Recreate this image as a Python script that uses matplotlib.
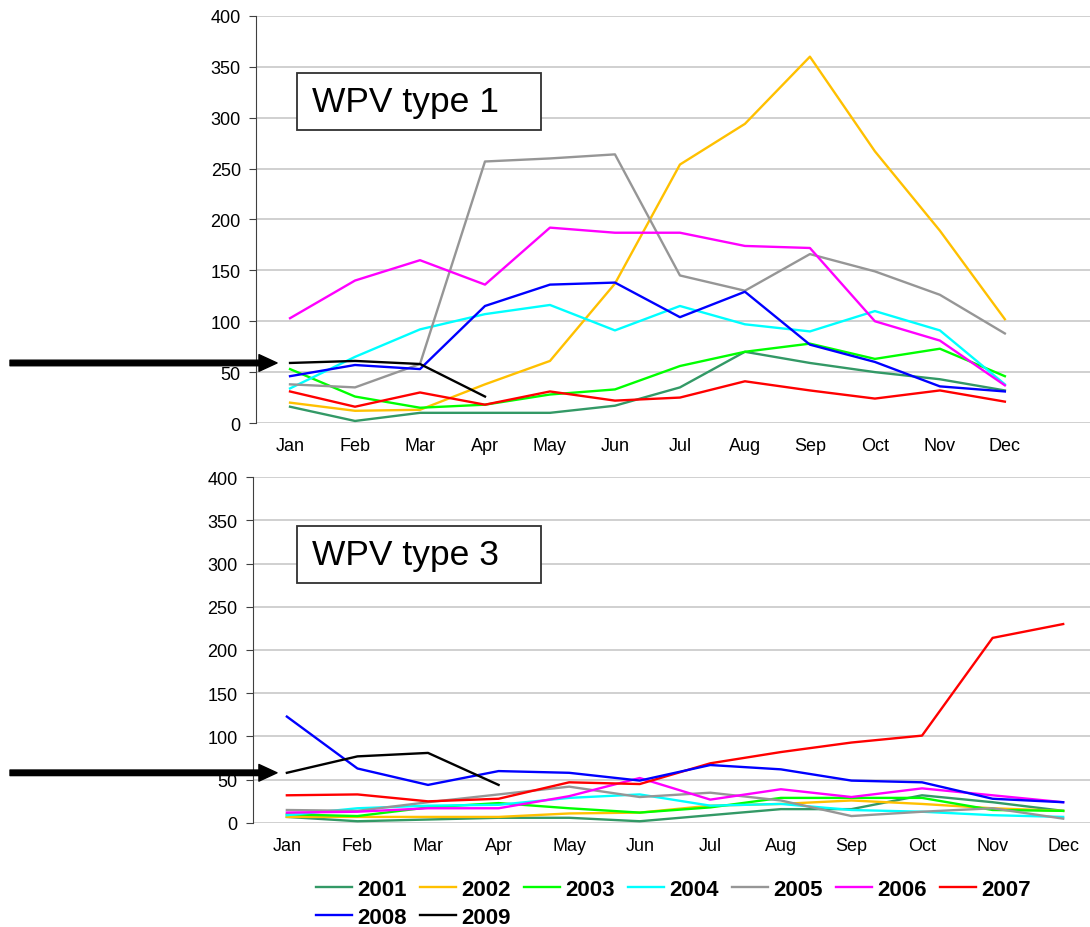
import matplotlib
matplotlib.use('Agg')
import matplotlib.pyplot as plt
from matplotlib.patches import Rectangle

plt.rcParams['font.family'] = ['Liberation Sans', 'DejaVu Sans']

months = ['Jan', 'Feb', 'Mar', 'Apr', 'May', 'Jun',
          'Jul', 'Aug', 'Sep', 'Oct', 'Nov', 'Dec']
years = ['2001', '2002', '2003', '2004', '2005', '2006', '2007', '2008', '2009']
colors = ['#339966', '#FFC000', '#00FF00', '#00FFFF', '#969696',
          '#FF00FF', '#FF0000', '#0000FF', '#000000']

# WPV type 1, monthly counts per year
type1_2001 = [16, 2, 10, 10, 10, 17, 35, 70, 59, 50, 43, 32]
type1_2002 = [20, 12, 13, 38, 61, 137, 254, 294, 360, 267, 189, 102]
type1_2003 = [53, 26, 15, 18, 28, 33, 56, 70, 78, 63, 73, 46]
type1_2004 = [34, 65, 92, 107, 116, 91, 115, 97, 90, 110, 91, 38]
type1_2005 = [38, 35, 58, 257, 260, 264, 145, 130, 166, 149, 126, 88]
type1_2006 = [103, 140, 160, 136, 192, 187, 187, 174, 172, 100, 81, 37]
type1_2007 = [31, 16, 30, 18, 31, 22, 25, 41, 32, 24, 32, 21]
type1_2008 = [46, 57, 53, 115, 136, 138, 104, 129, 77, 60, 36, 31]
type1_2009 = [59, 61, 58, 26]

# WPV type 3, monthly counts per year
type3_2001 = [7, 2, 4, 6, 6, 2, 9, 16, 16, 32, 24, 14]
type3_2002 = [7, 7, 7, 7, 11, 12, 20, 22, 26, 22, 17, 14]
type3_2003 = [10, 8, 18, 23, 17, 12, 18, 29, 29, 29, 15, 14]
type3_2004 = [9, 17, 20, 21, 29, 33, 20, 22, 15, 13, 9, 7]
type3_2005 = [15, 14, 24, 33, 42, 30, 35, 26, 8, 13, 17, 5]
type3_2006 = [12, 13, 17, 17, 31, 52, 27, 39, 30, 40, 32, 24]
type3_2007 = [32, 33, 25, 28, 47, 45, 69, 82, 93, 101, 214, 230]
type3_2008 = [123, 63, 44, 60, 58, 49, 67, 62, 49, 47, 28, 24]
type3_2009 = [58, 77, 81, 44]

type1 = [type1_2001, type1_2002, type1_2003, type1_2004, type1_2005,
         type1_2006, type1_2007, type1_2008, type1_2009]
type3 = [type3_2001, type3_2002, type3_2003, type3_2004, type3_2005,
         type3_2006, type3_2007, type3_2008, type3_2009]

fig = plt.figure(figsize=(10.9, 9.28), dpi=100)
ax1 = fig.add_axes([0.2349, 0.5431, 0.7651, 0.4386])
ax2 = fig.add_axes([0.2321, 0.1121, 0.7679, 0.3728])


def draw_panel(ax, series, label, xlim, box, text_pos, arrow_x):
    for vals, year, col in zip(series, years, colors):
        ax.plot(range(len(vals)), vals, color=col, linewidth=1.7, label=year)

    ax.set_xlim(*xlim)
    ax.set_ylim(0, 400)
    ax.set_yticks(range(0, 401, 50))
    ax.set_xticks(range(12))
    ax.set_xticklabels(months)
    ax.yaxis.grid(True, color='#C8C8C8', linewidth=1.2)
    ax.set_axisbelow(True)
    for side in ['top', 'right', 'bottom']:
        ax.spines[side].set_visible(False)
    ax.spines['left'].set_color('#404040')
    ax.tick_params(axis='y', length=5, color='#404040', labelsize=13, pad=6)
    ax.tick_params(axis='x', length=0, labelsize=13, pad=10)

    ax.add_patch(Rectangle(box[:2], box[2], box[3], transform=ax.transAxes,
                           facecolor='white', edgecolor='#303030',
                           linewidth=1.3, zorder=5))
    ax.text(text_pos[0], text_pos[1], label, transform=ax.transAxes,
            fontsize=25.5, va='center', ha='left', zorder=6)

    # arrow pointing at the first 2009 value
    ax.annotate('', xy=(arrow_x, series[-1][0]), xycoords='data',
                xytext=(10 / 1090, series[-1][0]),
                textcoords=('figure fraction', 'data'),
                arrowprops=dict(arrowstyle='simple,head_length=0.65,head_width=0.6,tail_width=0.2',
                                mutation_scale=20, color='black',
                                shrinkA=0, shrinkB=0),
                annotation_clip=False)


draw_panel(ax1, type1, 'WPV type 1', (-0.523, 12.31),
           (0.049, 0.72, 0.2926, 0.14), (0.067, 0.79), -0.2)
draw_panel(ax2, type3, 'WPV type 3', (-0.48, 11.38),
           (0.0526, 0.6936, 0.2915, 0.1647), (0.0705, 0.776), -0.14)

# legend fills column by column: reorder so rows read 2001..2007, then 2008, 2009
handles, labels = ax2.get_legend_handles_labels()
order = [0, 7, 1, 8, 2, 3, 4, 5, 6]
fig.legend([handles[i] for i in order], [labels[i] for i in order],
           ncol=7, loc='upper left',
           bbox_to_anchor=(316 / 1090, 1 - 880 / 928),
           frameon=False, borderpad=0, borderaxespad=0,
           handlelength=1.62, handletextpad=0.23, columnspacing=0.6,
           labelspacing=0.3, prop={'weight': 'bold', 'size': 16})

fig.savefig('out.png', dpi=100)
